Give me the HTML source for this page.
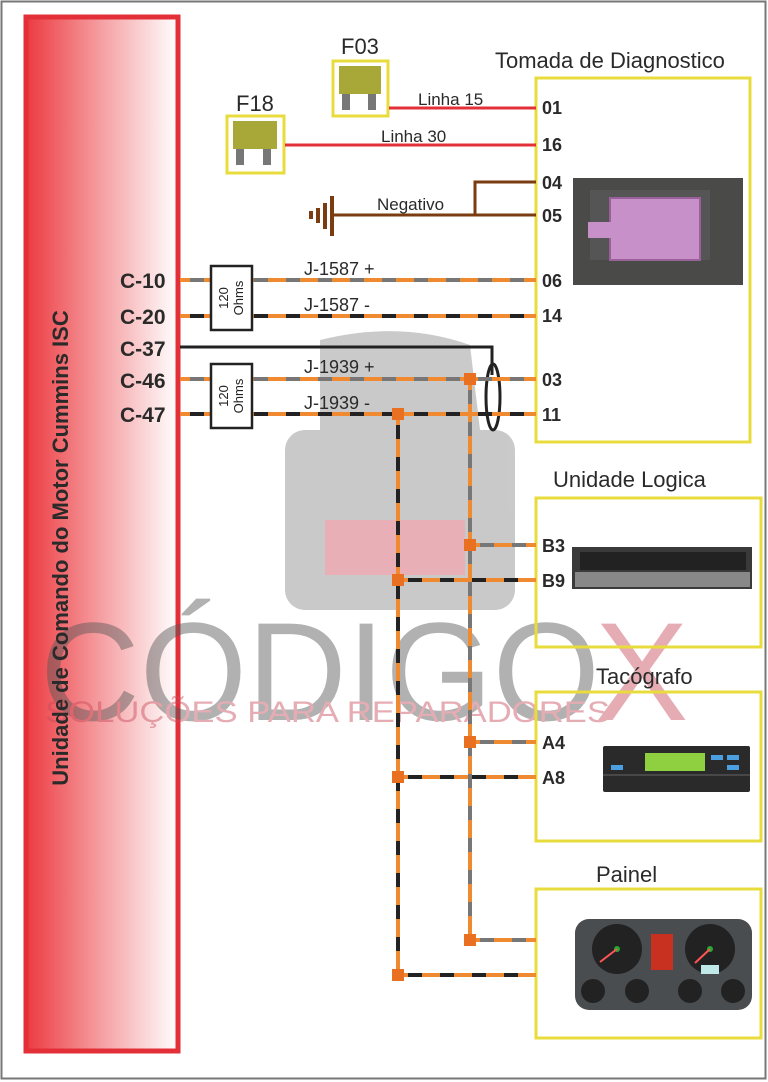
<!DOCTYPE html>
<html><head><meta charset="utf-8"><style>
html,body{margin:0;padding:0;background:#fff}
svg{display:block;font-family:"Liberation Sans",sans-serif}
</style></head><body>
<svg width="768" height="1082" viewBox="0 0 768 1082" xmlns="http://www.w3.org/2000/svg">
<defs>
<linearGradient id="rg" x1="0" x2="1" y1="0" y2="0">
<stop offset="0" stop-color="#ec3a40"/><stop offset="0.5" stop-color="#f5a0a3"/><stop offset="1" stop-color="#fff"/>
</linearGradient>
</defs>
<rect x="0" y="0" width="768" height="1082" fill="#fff"/>
<rect x="1.5" y="1.5" width="764" height="1077" fill="none" stroke="#777" stroke-width="2"/>
<!-- red panel -->
<rect x="26" y="17" width="152" height="1034" fill="url(#rg)" stroke="#e33038" stroke-width="5"/>
<!-- watermark -->
<g opacity="0.45">
<g fill="#8a8a8a">
<rect x="285" y="430" width="230" height="180" rx="20"/>
<path d="M320 340 Q400 320 470 345 L480 430 L320 430 Z"/>
</g>
<rect x="325" y="520" width="140" height="55" fill="#d05060"/>
<text x="40" y="720" font-size="140" fill="#555" textLength="560" lengthAdjust="spacingAndGlyphs">CÓDIGO</text>
<text x="595" y="720" font-size="140" fill="#c84a5a">X</text>
<text x="45" y="722" font-size="30" fill="#c84a5a" textLength="565" lengthAdjust="spacingAndGlyphs">SOLUÇÕES PARA REPARADORES</text>
</g>
<text transform="translate(68,548) rotate(-90)" text-anchor="middle" font-size="22" font-weight="bold" fill="#2a2a2a">Unidade de Comando do Motor Cummins ISC</text>
<!-- boxes -->
<g fill="none" stroke="#e8dc3c" stroke-width="3">
<rect x="536" y="78" width="214" height="364"/>
<rect x="536" y="498" width="225" height="149"/>
<rect x="536" y="692" width="225" height="149"/>
<rect x="536" y="889" width="225" height="149"/>
</g>
<g font-size="22" fill="#2a2a2a">
<text x="495" y="68">Tomada de Diagnostico</text>
<text x="553" y="487">Unidade Logica</text>
<text x="596" y="684">Tacógrafo</text>
<text x="596" y="882">Painel</text>
<text x="341" y="54">F03</text>
<text x="236" y="111">F18</text>
</g>
<!-- fuses -->
<rect x="333" y="61" width="55" height="55" fill="#fff" stroke="#e8dc3c" stroke-width="3"/>
<rect x="339" y="66" width="42" height="28" fill="#a8a838"/>
<rect x="342" y="94" width="8" height="16" fill="#777"/><rect x="368" y="94" width="8" height="16" fill="#777"/>
<rect x="227" y="116" width="57" height="57" fill="#fff" stroke="#e8dc3c" stroke-width="3"/>
<rect x="233" y="121" width="44" height="28" fill="#a8a838"/>
<rect x="236" y="149" width="8" height="16" fill="#777"/><rect x="263" y="149" width="8" height="16" fill="#777"/>
<!-- red wires -->
<g stroke="#e33038" stroke-width="3">
<line x1="389" y1="108" x2="536" y2="108"/>
<line x1="285" y1="145" x2="536" y2="145"/>
</g>
<g font-size="17" fill="#2a2a2a">
<text x="418" y="105">Linha 15</text>
<text x="381" y="142">Linha 30</text>
<text x="377" y="210">Negativo</text>
</g>
<!-- brown ground -->
<g stroke="#7a3c10" stroke-width="3" fill="none">
<polyline points="536,182 475,182 475,214"/>
<line x1="333" y1="215" x2="536" y2="215"/>
<line x1="332" y1="196" x2="332" y2="236" stroke-width="4"/>
<line x1="325" y1="203" x2="325" y2="229" stroke-width="4"/>
<line x1="318" y1="208" x2="318" y2="223" stroke-width="4"/>
<line x1="311" y1="211" x2="311" y2="219" stroke-width="4"/>
</g>
<!-- C-37 -->
<polyline points="180,347 492,347 492,375" fill="none" stroke="#222" stroke-width="3"/>
<ellipse cx="493" cy="397" rx="7" ry="33" fill="none" stroke="#222" stroke-width="3"/>
<!-- CAN wires -->
<g stroke-width="4" fill="none">
<g stroke="#f08a30">
<line x1="180" y1="280" x2="536" y2="280"/>
<line x1="180" y1="316" x2="536" y2="316"/>
<line x1="180" y1="379" x2="536" y2="379"/>
<line x1="180" y1="414" x2="536" y2="414"/>
<line x1="470" y1="379" x2="470" y2="940"/>
<line x1="398" y1="414" x2="398" y2="975"/>
<line x1="470" y1="545" x2="536" y2="545"/>
<line x1="398" y1="580" x2="536" y2="580"/>
<line x1="470" y1="742" x2="536" y2="742"/>
<line x1="398" y1="777" x2="536" y2="777"/>
<line x1="470" y1="940" x2="536" y2="940"/>
<line x1="398" y1="975" x2="536" y2="975"/>
</g>
<g stroke="#777" stroke-dasharray="14 18">
<line x1="190" y1="280" x2="536" y2="280"/>
<line x1="190" y1="379" x2="536" y2="379"/>
<line x1="470" y1="390" x2="470" y2="940"/>
<line x1="480" y1="545" x2="536" y2="545"/>
<line x1="480" y1="742" x2="536" y2="742"/>
<line x1="480" y1="940" x2="536" y2="940"/>
</g>
<g stroke="#222" stroke-dasharray="14 18">
<line x1="190" y1="316" x2="536" y2="316"/>
<line x1="190" y1="414" x2="536" y2="414"/>
<line x1="398" y1="425" x2="398" y2="975"/>
<line x1="408" y1="580" x2="536" y2="580"/>
<line x1="408" y1="777" x2="536" y2="777"/>
<line x1="408" y1="975" x2="536" y2="975"/>
</g>
</g>
<g fill="#e87020">
<rect x="464" y="373" width="12" height="12"/>
<rect x="392" y="408" width="12" height="12"/>
<rect x="464" y="539" width="12" height="12"/>
<rect x="392" y="574" width="12" height="12"/>
<rect x="464" y="736" width="12" height="12"/>
<rect x="392" y="771" width="12" height="12"/>
<rect x="464" y="934" width="12" height="12"/>
<rect x="392" y="969" width="12" height="12"/>
</g>
<!-- resistors -->
<g fill="#fff" stroke="#222" stroke-width="2.5">
<rect x="211" y="266" width="41" height="64"/>
<rect x="211" y="364" width="41" height="64"/>
</g>
<g font-size="13" fill="#222">
<text transform="translate(228,298) rotate(-90)" text-anchor="middle">120</text>
<text transform="translate(243,298) rotate(-90)" text-anchor="middle">Ohms</text>
<text transform="translate(228,396) rotate(-90)" text-anchor="middle">120</text>
<text transform="translate(243,396) rotate(-90)" text-anchor="middle">Ohms</text>
</g>
<g font-size="18" fill="#2a2a2a">
<text x="304" y="275">J-1587 +</text>
<text x="304" y="311">J-1587  -</text>
<text x="304" y="373">J-1939 +</text>
<text x="304" y="409">J-1939  -</text>
</g>
<g font-size="21" font-weight="bold" fill="#2a2a2a">
<text x="120" y="288">C-10</text>
<text x="120" y="324">C-20</text>
<text x="120" y="356">C-37</text>
<text x="120" y="388">C-46</text>
<text x="120" y="422">C-47</text>
</g>
<g font-size="18" font-weight="bold" fill="#2a2a2a">
<text x="542" y="114">01</text>
<text x="542" y="151">16</text>
<text x="542" y="189">04</text>
<text x="542" y="222">05</text>
<text x="542" y="287">06</text>
<text x="542" y="322">14</text>
<text x="542" y="386">03</text>
<text x="542" y="421">11</text>
<text x="542" y="552">B3</text>
<text x="542" y="587">B9</text>
<text x="542" y="749">A4</text>
<text x="542" y="784">A8</text>
</g>
<!-- diag connector photo -->
<rect x="573" y="178" width="170" height="107" fill="#4a4a48"/>
<rect x="590" y="190" width="120" height="70" fill="#555"/>
<rect x="610" y="198" width="90" height="62" fill="#c890c8" stroke="#9a609a" stroke-width="2"/>
<rect x="588" y="222" width="30" height="16" fill="#c890c8"/>
<!-- logic unit -->
<rect x="572" y="547" width="180" height="42" fill="#3a3a3a"/>
<rect x="580" y="552" width="166" height="18" fill="#222"/>
<rect x="575" y="572" width="175" height="15" fill="#888"/>
<!-- tacho -->
<rect x="603" y="746" width="147" height="46" rx="2" fill="#2a2a2a"/>
<rect x="645" y="753" width="60" height="18" fill="#8fd040"/>
<rect x="711" y="755" width="12" height="5" fill="#4aa0e0"/><rect x="727" y="755" width="12" height="5" fill="#4aa0e0"/>
<rect x="727" y="765" width="12" height="5" fill="#4aa0e0"/><rect x="611" y="765" width="12" height="5" fill="#4aa0e0"/>
<line x1="603" y1="775" x2="750" y2="775" stroke="#666"/>
<!-- panel -->
<rect x="575" y="919" width="177" height="91" rx="14" fill="#4a4d50"/>
<circle cx="617" cy="949" r="25" fill="#222"/>
<circle cx="710" cy="949" r="25" fill="#222"/>
<circle cx="617" cy="949" r="3" fill="#2a3"/><circle cx="710" cy="949" r="3" fill="#2a3"/>
<line x1="617" y1="949" x2="600" y2="962" stroke="#f55" stroke-width="2"/>
<line x1="710" y1="949" x2="695" y2="963" stroke="#f55" stroke-width="2"/>
<rect x="651" y="934" width="22" height="36" fill="#c83020"/>
<rect x="701" y="965" width="18" height="9" fill="#bfe8e8"/>
<circle cx="593" cy="991" r="12" fill="#222"/><circle cx="637" cy="991" r="12" fill="#222"/>
<circle cx="690" cy="991" r="12" fill="#222"/><circle cx="733" cy="991" r="12" fill="#222"/>
</svg>
</body></html>
